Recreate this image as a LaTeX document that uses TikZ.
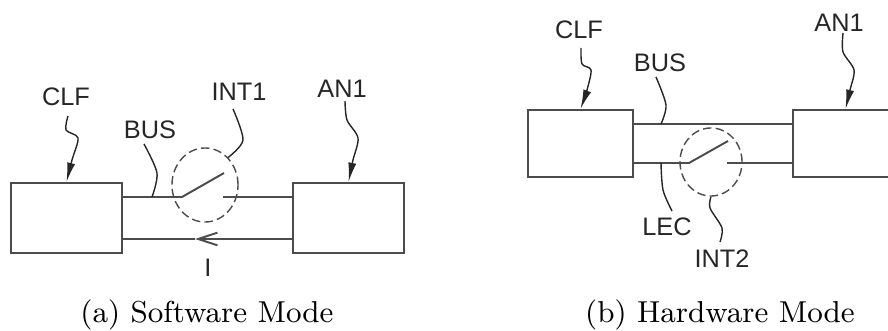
\documentclass[tikz,border=0pt]{standalone}
\usepackage{fontspec}
\usetikzlibrary{arrows.meta,shapes.geometric}
\newfontfamily\LabelFont{Liberation Sans}
\definecolor{LineClr}{rgb}{0.3,0.3,0.3}
\definecolor{LabelClr}{rgb}{0.15,0.15,0.15}
\tikzset{
  unitbox/.style={draw=LineClr,line width=.55pt,minimum width=1.11cm,minimum height=.70cm,inner sep=0pt},
  unitboxb/.style={unitbox,minimum width=1.05cm,minimum height=.67cm},
  wire/.style={draw=LineClr,line width=.55pt},
  leader/.style={draw=LabelClr,line width=.4pt},
  pointer/.style={leader,-{Latex[length=5.5pt,width=2.3pt]}},
  lbl/.style={font=\LabelFont\fontsize{7.2}{8}\selectfont,text=LabelClr,inner sep=0pt},
  caption/.style={font=\fontsize{8.6}{10}\selectfont,inner sep=0pt},
  switchring/.style={draw=LineClr,dashed,dash pattern=on 2.4pt off 1.2pt,line width=.4pt,ellipse,inner sep=0pt}
}

\begin{document}
\begin{tikzpicture}[x=.01cm,y=-.01cm]
\useasboundingbox (0,0) rectangle (888,331);
\clip (0,0) rectangle (888,331);

% software mode
\node[unitbox] (clfa) at (66.5,218) {};
\node[unitbox] (ana) at (348.5,218) {};
\node[switchring,minimum width=.66cm,minimum height=.74cm] (inta) at (205,185) {};
\node[lbl] (clflbla) at (66,97) {CLF};
\node[lbl] (intlbla) at (239,92) {INT1};
\node[lbl] (anlbla) at (342,89) {AN1};
\node[lbl] (buslbla) at (150,130) {BUS};
\node[lbl] (ilbla) at (208,268) {I};
\node[caption] (capa) at (207,315) {(a) Software Mode};

\coordinate (upla) at (clfa.east |- 0,197);
\coordinate (upra) at (ana.west |- 0,197);
\coordinate (lowla) at (clfa.east |- 0,239);
\coordinate (lowra) at (ana.west |- 0,239);
\coordinate (pivota) at (182,197);
\coordinate (bladea) at (224,173);
\coordinate (contacta) at (223,197);
\coordinate (taila) at (195,239);
\coordinate (busfoota) at (152,197);

\draw[wire] (upla) -- (pivota) -- (bladea);
\draw[wire] (contacta) -- (upra);
\draw[wire,-{Straight Barb[length=5.5pt,width=3.6pt]}] (lowra) -- (taila);
\draw[wire] (taila) -- (lowla);

\draw[pointer] plot[smooth] coordinates {(68,116) (66,130) (78,138) (72,160) (clfa.north)};
\draw[pointer] plot[smooth] coordinates {(345,101) (347,120) (358,138) (353,160) (ana.north)};
\draw[leader] plot[smooth] coordinates {(233,109) (243,140) (inta.50)};
\draw[leader] plot[smooth] coordinates {(144,144) (157,173) (busfoota)};

% hardware mode
\node[unitboxb] (clfb) at (580.5,143.5) {};
\node[unitboxb] (anb) at (845.5,143.5) {};
\node[switchring,minimum width=.62cm,minimum height=.68cm] (intb) at (711,162) {};
\node[lbl] (clflblb) at (579,30) {CLF};
\node[lbl] (anlblb) at (839,23) {AN1};
\node[lbl] (buslblb) at (660,63) {BUS};
\node[lbl] (leclblb) at (667,227) {LEC};
\node[lbl] (intlblb) at (722,259) {INT2};
\node[caption] (capb) at (720,315) {(b) Hardware Mode};

\coordinate (uplb) at (clfb.east |- 0,124);
\coordinate (uprb) at (anb.west |- 0,124);
\coordinate (lowlb) at (clfb.east |- 0,163);
\coordinate (lowrb) at (anb.west |- 0,163);
\coordinate (pivotb) at (689,163);
\coordinate (bladeb) at (728,141);
\coordinate (contactb) at (727,163);
\coordinate (busfootb) at (661,124);
\coordinate (lecfootb) at (661,163);

\draw[wire] (uplb) -- (uprb);
\draw[wire] (lowlb) -- (pivotb) -- (bladeb);
\draw[wire] (contactb) -- (lowrb);

\draw[pointer] plot[smooth] coordinates {(581,48) (582,64) (591,70) (587,90) (clfb.north)};
\draw[pointer] plot[smooth] coordinates {(843,33) (843,52) (854,70) (850,90) (anb.north)};
\draw[leader] plot[smooth] coordinates {(656,77) (666,105) (busfootb)};
\draw[leader] plot[smooth] coordinates {(lecfootb) (663,190) (672,211)};
\draw[leader] plot[smooth] coordinates {(intb.south) (710,208) (722,228) (720,242)};
\end{tikzpicture}
\end{document}
